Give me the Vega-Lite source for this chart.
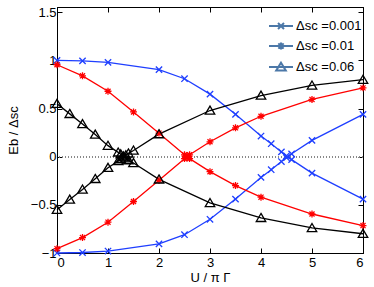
{
  "$schema": "https://vega.github.io/schema/vega-lite/v6.json",
  "width": 306,
  "height": 246,
  "autosize": "none",
  "padding": {"left": 57, "top": 7, "right": 11, "bottom": 34},
  "background": "white",
  "config": {
    "font": "Liberation Sans",
    "view": {"stroke": "black", "strokeWidth": 1},
    "axis": {
      "domainColor": "black", "tickColor": "black", "labelColor": "black", "titleColor": "black",
      "labelFont": "Liberation Sans", "titleFont": "Liberation Sans",
      "labelFontSize": 13, "titleFontSize": 13, "titleFontWeight": "normal",
      "grid": false, "tickSize": -5, "labelPadding": 8
    },
    "legend": {"labelFont": "Liberation Sans", "labelFontSize": 13, "labelColor": "black"}
  },
  "data": {"values": [
    {"d": "0.001", "b": "a", "x": 0, "y": 1.0},
    {"d": "0.001", "b": "a", "x": 0.5, "y": 0.995},
    {"d": "0.001", "b": "a", "x": 1, "y": 0.98},
    {"d": "0.001", "b": "a", "x": 2, "y": 0.905},
    {"d": "0.001", "b": "a", "x": 2.5, "y": 0.81},
    {"d": "0.001", "b": "a", "x": 3, "y": 0.65},
    {"d": "0.001", "b": "a", "x": 3.5, "y": 0.44},
    {"d": "0.001", "b": "a", "x": 4, "y": 0.215},
    {"d": "0.001", "b": "a", "x": 4.2, "y": 0.135},
    {"d": "0.001", "b": "a", "x": 4.4, "y": 0.05},
    {"d": "0.001", "b": "a", "x": 4.5, "y": 0.01},
    {"d": "0.001", "b": "a", "x": 4.6, "y": -0.03},
    {"d": "0.001", "b": "a", "x": 5, "y": -0.17},
    {"d": "0.001", "b": "a", "x": 6, "y": -0.44},
    {"d": "0.001", "b": "b", "x": 0, "y": -1.0},
    {"d": "0.001", "b": "b", "x": 0.5, "y": -0.995},
    {"d": "0.001", "b": "b", "x": 1, "y": -0.98},
    {"d": "0.001", "b": "b", "x": 2, "y": -0.905},
    {"d": "0.001", "b": "b", "x": 2.5, "y": -0.81},
    {"d": "0.001", "b": "b", "x": 3, "y": -0.65},
    {"d": "0.001", "b": "b", "x": 3.5, "y": -0.44},
    {"d": "0.001", "b": "b", "x": 4, "y": -0.215},
    {"d": "0.001", "b": "b", "x": 4.2, "y": -0.135},
    {"d": "0.001", "b": "b", "x": 4.4, "y": -0.05},
    {"d": "0.001", "b": "b", "x": 4.5, "y": -0.01},
    {"d": "0.001", "b": "b", "x": 4.6, "y": 0.03},
    {"d": "0.001", "b": "b", "x": 5, "y": 0.17},
    {"d": "0.001", "b": "b", "x": 6, "y": 0.44},
    {"d": "0.01", "b": "a", "x": 0, "y": 0.955},
    {"d": "0.01", "b": "a", "x": 0.5, "y": 0.84},
    {"d": "0.01", "b": "a", "x": 1, "y": 0.68},
    {"d": "0.01", "b": "a", "x": 1.5, "y": 0.465},
    {"d": "0.01", "b": "a", "x": 2, "y": 0.245},
    {"d": "0.01", "b": "a", "x": 2.5, "y": 0.02},
    {"d": "0.01", "b": "a", "x": 2.55, "y": 0.0},
    {"d": "0.01", "b": "a", "x": 2.6, "y": -0.02},
    {"d": "0.01", "b": "a", "x": 3, "y": -0.155},
    {"d": "0.01", "b": "a", "x": 3.5, "y": -0.3},
    {"d": "0.01", "b": "a", "x": 4, "y": -0.42},
    {"d": "0.01", "b": "a", "x": 5, "y": -0.595},
    {"d": "0.01", "b": "a", "x": 6, "y": -0.715},
    {"d": "0.01", "b": "b", "x": 0, "y": -0.955},
    {"d": "0.01", "b": "b", "x": 0.5, "y": -0.84},
    {"d": "0.01", "b": "b", "x": 1, "y": -0.68},
    {"d": "0.01", "b": "b", "x": 1.5, "y": -0.465},
    {"d": "0.01", "b": "b", "x": 2, "y": -0.245},
    {"d": "0.01", "b": "b", "x": 2.5, "y": -0.02},
    {"d": "0.01", "b": "b", "x": 2.55, "y": 0.0},
    {"d": "0.01", "b": "b", "x": 2.6, "y": 0.02},
    {"d": "0.01", "b": "b", "x": 3, "y": 0.155},
    {"d": "0.01", "b": "b", "x": 3.5, "y": 0.3},
    {"d": "0.01", "b": "b", "x": 4, "y": 0.42},
    {"d": "0.01", "b": "b", "x": 5, "y": 0.595},
    {"d": "0.01", "b": "b", "x": 6, "y": 0.715},
    {"d": "0.06", "b": "a", "x": 0, "y": 0.55},
    {"d": "0.06", "b": "a", "x": 0.25, "y": 0.445},
    {"d": "0.06", "b": "a", "x": 0.5, "y": 0.34},
    {"d": "0.06", "b": "a", "x": 0.75, "y": 0.23},
    {"d": "0.06", "b": "a", "x": 1, "y": 0.115},
    {"d": "0.06", "b": "a", "x": 1.2, "y": 0.045},
    {"d": "0.06", "b": "a", "x": 1.25, "y": 0.025},
    {"d": "0.06", "b": "a", "x": 1.3, "y": 0.005},
    {"d": "0.06", "b": "a", "x": 1.35, "y": -0.015},
    {"d": "0.06", "b": "a", "x": 1.4, "y": -0.035},
    {"d": "0.06", "b": "a", "x": 1.5, "y": -0.065},
    {"d": "0.06", "b": "a", "x": 2, "y": -0.235},
    {"d": "0.06", "b": "a", "x": 3, "y": -0.48},
    {"d": "0.06", "b": "a", "x": 4, "y": -0.635},
    {"d": "0.06", "b": "a", "x": 5, "y": -0.74},
    {"d": "0.06", "b": "a", "x": 6, "y": -0.8},
    {"d": "0.06", "b": "b", "x": 0, "y": -0.55},
    {"d": "0.06", "b": "b", "x": 0.25, "y": -0.445},
    {"d": "0.06", "b": "b", "x": 0.5, "y": -0.34},
    {"d": "0.06", "b": "b", "x": 0.75, "y": -0.23},
    {"d": "0.06", "b": "b", "x": 1, "y": -0.115},
    {"d": "0.06", "b": "b", "x": 1.2, "y": -0.045},
    {"d": "0.06", "b": "b", "x": 1.25, "y": -0.025},
    {"d": "0.06", "b": "b", "x": 1.3, "y": -0.005},
    {"d": "0.06", "b": "b", "x": 1.35, "y": 0.015},
    {"d": "0.06", "b": "b", "x": 1.4, "y": 0.035},
    {"d": "0.06", "b": "b", "x": 1.5, "y": 0.065},
    {"d": "0.06", "b": "b", "x": 2, "y": 0.235},
    {"d": "0.06", "b": "b", "x": 3, "y": 0.48},
    {"d": "0.06", "b": "b", "x": 4, "y": 0.635},
    {"d": "0.06", "b": "b", "x": 5, "y": 0.74},
    {"d": "0.06", "b": "b", "x": 6, "y": 0.8}
  ]},
  "resolve": {"scale": {"shape": "independent"}, "axis": {"x": "independent", "y": "independent"}},
  "layer": [
    {
      "mark": {"type": "rule", "color": "#888888", "strokeDash": [1, 2], "strokeWidth": 1},
      "encoding": {"y": {"datum": 0, "type": "quantitative", "axis": null}}
    },
    {
      "mark": {"type": "line", "strokeWidth": 1.3},
      "encoding": {
        "x": {"field": "x", "type": "quantitative", "scale": {"domain": [0, 6], "nice": false},
              "axis": {"orient": "bottom", "values": [0, 1, 2, 3, 4, 5, 6], "title": "U / π Γ", "titlePadding": 2}},
        "y": {"field": "y", "type": "quantitative", "scale": {"domain": [-1, 1.555], "nice": false, "zero": false},
              "axis": {"orient": "left", "values": [-1, -0.5, 0, 0.5, 1, 1.5], "format": "~g", "labelPadding": 6, "title": "Eb / Δsc", "titlePadding": 10}},
        "color": {"field": "d", "type": "nominal", "scale": {"domain": ["0.001", "0.01", "0.06"], "range": ["#1f3fff", "#ff0000", "#000000"]}, "legend": null},
        "detail": {"field": "b"},
        "order": {"field": "x", "type": "quantitative"}
      }
    },
    {
      "mark": {"type": "point", "filled": false, "strokeWidth": 1.3, "opacity": 1},
      "encoding": {
        "x": {"field": "x", "type": "quantitative", "axis": {"orient": "top", "values": [0, 1, 2, 3, 4, 5, 6], "labels": false, "title": null}},
        "y": {"field": "y", "type": "quantitative", "axis": {"orient": "right", "values": [-1, -0.5, 0, 0.5, 1, 1.5], "labels": false, "title": null}},
        "color": {"field": "d", "type": "nominal", "legend": null},
        "shape": {"field": "d", "type": "nominal", "legend": null,
                  "scale": {"domain": ["0.001", "0.01", "0.06"], "range": [
                    "M-1,-1L1,1M-1,1L1,-1",
                    "M-1.1,0L1.1,0M0,-1.1L0,1.1M-0.8,-0.8L0.8,0.8M-0.8,0.8L0.8,-0.8",
                    "M0,-1.4L1.5,1.15L-1.5,1.15Z"]}},
        "size": {"value": 40}
      }
    },
    {
      "transform": [{"filter": "false"}],
      "mark": {"type": "point", "filled": false, "strokeWidth": 1.3, "opacity": 1},
      "encoding": {
        "x": {"field": "x", "type": "quantitative", "axis": null},
        "y": {"field": "y", "type": "quantitative", "axis": null},
        "shape": {"field": "d", "type": "nominal",
                  "legend": {"title": null, "orient": "none", "legendX": 211, "legendY": 6, "padding": 0, "rowPadding": 0, "labelOffset": 2, "symbolSize": 576, "symbolStrokeWidth": 2, "symbolOpacity": 1, "symbolFillColor": "transparent", "labelExpr": "'Δsc =' + datum.label",
                             "encode": {"symbols": {"update": {"stroke": {"signal": "datum.value === '0.001' ? '#1f3fff' : datum.value === '0.01' ? '#ff0000' : '#000000'"}, "opacity": {"value": 1}, "strokeOpacity": {"value": 1}}}}},
                  "scale": {"domain": ["0.001", "0.01", "0.06"], "range": [
                    "M-1,0L1,0M-0.25,-0.25L0.25,0.25M-0.25,0.25L0.25,-0.25",
                    "M-1,0L1,0M0,-0.3L0,0.3M-0.22,-0.22L0.22,0.22M-0.22,0.22L0.22,-0.22",
                    "M-1,0L1,0M0,-0.36L0.4,0.3L-0.4,0.3Z"]}}
      }
    }
  ]
}
